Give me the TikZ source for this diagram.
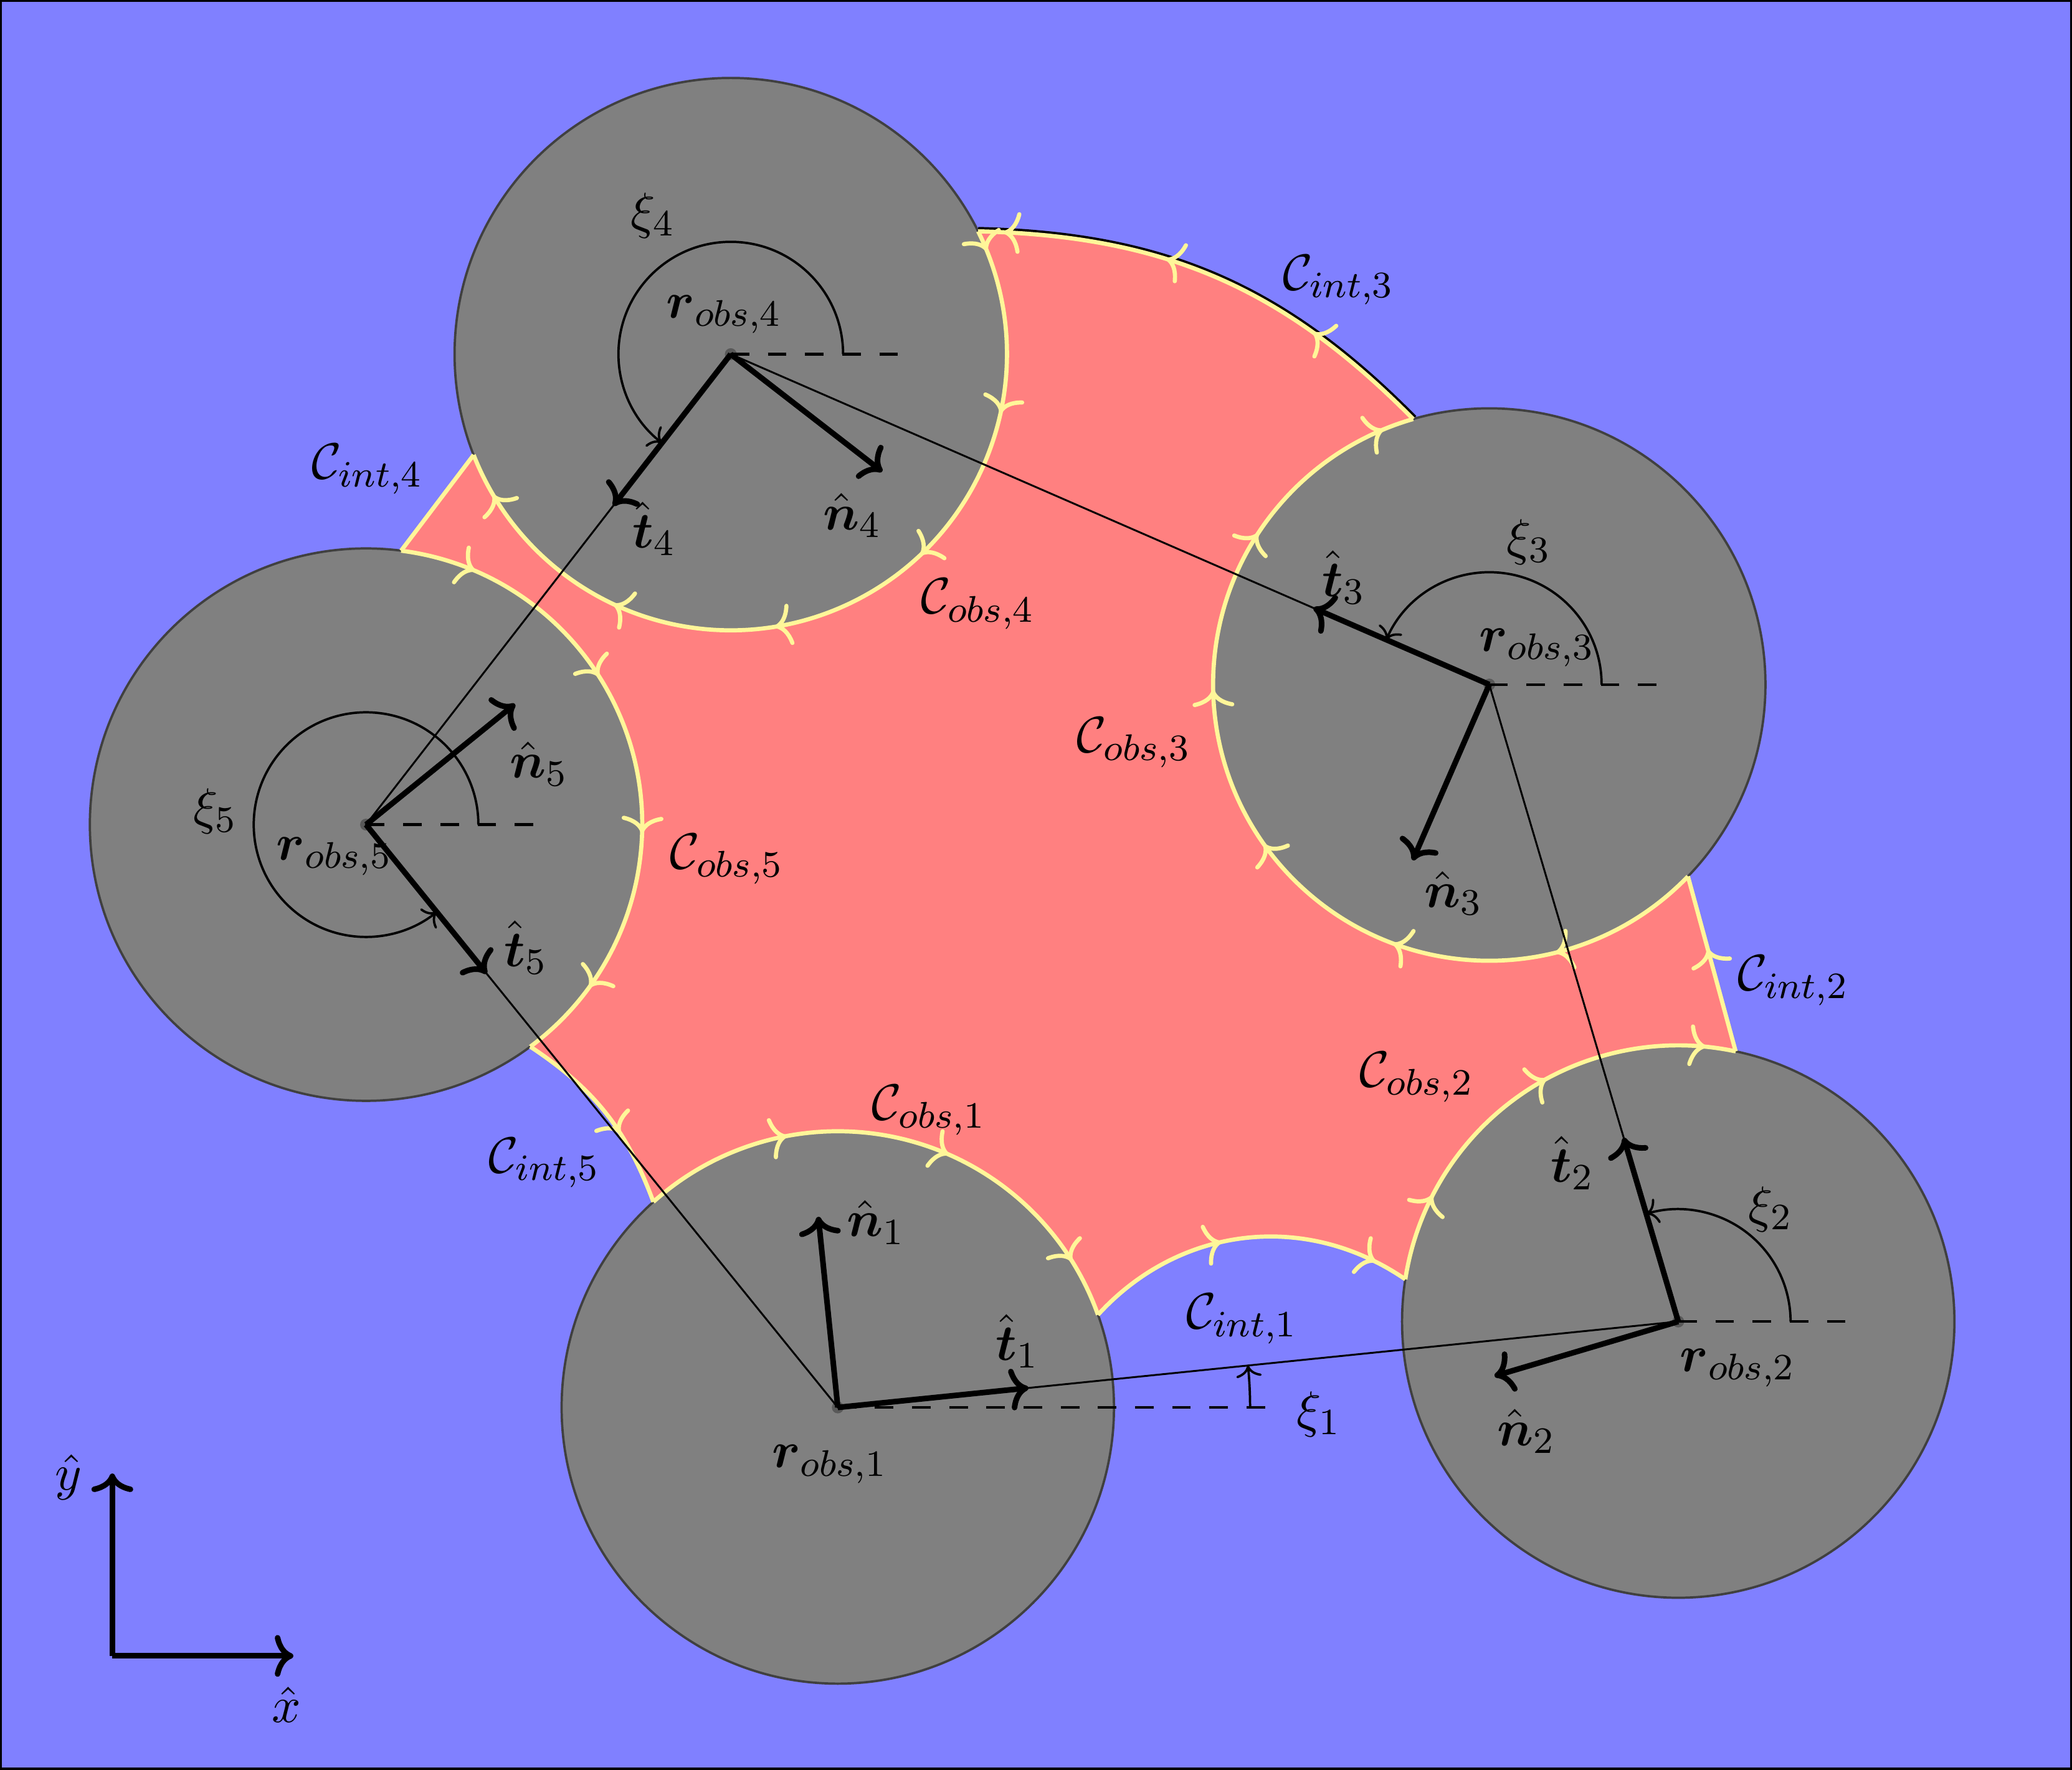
\documentclass[tikz,border=0pt]{standalone}
\usepackage{amsmath}
\usepackage{amsfonts}
\usetikzlibrary{arrows.meta,calc,decorations.markings}

\definecolor{freespace}{RGB}{128,128,255}
\definecolor{region}{RGB}{255,128,128}
\definecolor{obstacle}{RGB}{128,128,128}
\definecolor{contour}{RGB}{255,246,153}

\newcommand{\obsr}{2.09}

\tikzset{
	obs/.style={fill=obstacle, draw=black!75, line width=0.5pt},
	bnd/.style 2 args={draw=contour, line width=0.9pt,
		postaction={decorate, decoration={markings,
			mark=between positions #1 and -0.05cm step #2 with {\arrow[contour]{To[length=3.6pt,width=9pt]}}}}},
	vec/.style={line width=1.2pt, -{To[length=4pt,width=9pt]}},
	ang/.style={line width=0.5pt, -{To[length=2.5pt,width=5.5pt]}},
	ref/.style={line width=0.6pt, dash pattern=on 4pt off 4pt},
	every node/.style={font=\fontsize{11}{13}\selectfont, inner sep=1pt},
}

\begin{document}
\begin{tikzpicture}
	\useasboundingbox (0,0) rectangle (15.68,13.39);
	\fill[freespace, draw=black, line width=0.9pt] (0,0) rectangle (15.68,13.39);

	\coordinate (o1) at (6.34,2.74);
	\coordinate (o2) at (12.70,3.39);
	\coordinate (o3) at (11.27,8.21);
	\coordinate (o4) at (5.53,10.71);
	\coordinate (o5) at (2.77,7.15);

	\coordinate (int1s) at ($(o1)+(19.6:\obsr)$);
	\coordinate (int1e) at ($(o2)+(171.2:\obsr)$);
	\coordinate (int2s) at ($(o2)+(78:\obsr)$);
	\coordinate (int2e) at ($(o3)+(-44:\obsr)$);
	\coordinate (int3s) at ($(o3)+(106:\obsr)$);
	\coordinate (int3e) at ($(o4)+(26.4:\obsr)$);
	\coordinate (int4s) at ($(o4)+(201.4:\obsr)$);
	\coordinate (int4e) at ($(o5)+(82.7:\obsr)$);
	\coordinate (int5s) at ($(o5)+(-53.5:\obsr)$);
	\coordinate (int5e) at ($(o1)+(131.9:\obsr)$);

	\draw[line width=1.9pt] (int3s) to[bend right=22] (int3e);
	\fill[region] (o1) -- (int1s) to[bend left=41] (int1e) -- (o2) -- (int2s) -- (int2e) -- (o3)
		-- (int3s) to[bend right=22] (int3e) -- (o4) -- (int4s) -- (int4e) -- (o5)
		-- (int5s) to[bend left=18] (int5e) -- cycle;

	\foreach \i in {1,...,5}
		\draw[obs] (o\i) circle (\obsr);

	\draw[bnd={1.14cm}{1.25cm}] (int5e) arc[start angle=131.9, end angle=19.6, radius=\obsr];
	\draw[bnd={1.1cm}{1.2cm}] (int1s) to[bend left=41] (int1e);
	\draw[bnd={0.67cm}{1.25cm}] (int1e) arc[start angle=171.2, end angle=78, radius=\obsr];
	\draw[bnd={0.8cm}{5cm}] (int2s) -- (int2e);
	\draw[bnd={1.17cm}{1.25cm}] (int2e) arc[start angle=-44, end angle=-254, radius=\obsr];
	\draw[bnd={1.0cm}{1.25cm}] (int3s) to[bend right=22] (int3e);
	\draw[bnd={0.16cm}{1.25cm}] (int3e) arc[start angle=26.4, end angle=-158.6, radius=\obsr];
	\draw[draw=contour, line width=0.9pt] (int4s) -- (int4e);
	\draw[bnd={0.58cm}{1.25cm}] (int4e) arc[start angle=82.7, end angle=-53.5, radius=\obsr];
	\draw[bnd={0.95cm}{5cm}] (int5s) to[bend left=18] (int5e);

	\foreach \i in {1,...,5}
		\fill[black!65] (o\i) circle (0.045);

	\draw (o1) -- (o2) -- (o3) -- (o4) -- (o5) -- cycle;

	\foreach \i/\l in {1/3.3,2/1.35,3/1.35,4/1.35,5/1.33}
		\draw[ref] (o\i) -- ++(\l,0);
	\foreach \i/\a/\r in {1/5.84/3.12,2/106.5/0.85,3/156.5/0.85,4/232.2/0.85,5/309/0.85}
		\draw[ang] ($(o\i)+(\r,0)$) arc[start angle=0, end angle=\a, radius=\r];

	\foreach \i/\j in {1/2,2/3,3/4,4/5,5/1}{
		\draw[vec] (o\i) -- ($(o\i)!1.45cm!(o\j)$);
		\draw[vec] (o\i) -- ($(o\i)!1.45cm!90:(o\j)$);
	}

	\node (r1) at (6.28,2.31) {$\boldsymbol{r}_{obs,1}$};
	\node (r2) at (13.15,3.04) {$\boldsymbol{r}_{obs,2}$};
	\node (r3) at (11.63,8.49) {$\boldsymbol{r}_{obs,3}$};
	\node (r4) at (5.48,11.01) {$\boldsymbol{r}_{obs,4}$};
	\node (r5) at (2.53,6.91) {$\boldsymbol{r}_{obs,5}$};

	\node (t1) at (7.70,3.24) {$\hat{\boldsymbol{t}}_1$};
	\node (t2) at (11.90,4.59) {$\hat{\boldsymbol{t}}_2$};
	\node (t3) at (10.17,9.02) {$\hat{\boldsymbol{t}}_3$};
	\node (t4) at (4.95,9.39) {$\hat{\boldsymbol{t}}_4$};
	\node (t5) at (3.98,6.22) {$\hat{\boldsymbol{t}}_5$};

	\node (n1) at (6.63,4.14) {$\hat{\boldsymbol{n}}_1$};
	\node (n2) at (11.55,2.56) {$\hat{\boldsymbol{n}}_2$};
	\node (n3) at (11.00,6.63) {$\hat{\boldsymbol{n}}_3$};
	\node (n4) at (6.45,9.49) {$\hat{\boldsymbol{n}}_4$};
	\node (n5) at (4.08,7.61) {$\hat{\boldsymbol{n}}_5$};

	\node (xi1) at (9.98,2.69) {$\xi_1$};
	\node (xi2) at (13.40,4.24) {$\xi_2$};
	\node (xi3) at (11.57,9.29) {$\xi_3$};
	\node (xi4) at (4.94,11.76) {$\xi_4$};
	\node (xi5) at (1.63,7.25) {$\xi_5$};

	\node (cobs1) at (7.03,4.99) {$\mathcal{C}_{obs,1}$};
	\node (cobs2) at (10.72,5.24) {$\mathcal{C}_{obs,2}$};
	\node (cobs3) at (8.58,7.77) {$\mathcal{C}_{obs,3}$};
	\node (cobs4) at (7.40,8.82) {$\mathcal{C}_{obs,4}$};
	\node (cobs5) at (5.50,6.89) {$\mathcal{C}_{obs,5}$};

	\node (cint1) at (9.40,3.41) {$\mathcal{C}_{int,1}$};
	\node (cint2) at (13.57,5.97) {$\mathcal{C}_{int,2}$};
	\node (cint3) at (10.13,11.27) {$\mathcal{C}_{int,3}$};
	\node (cint4) at (2.78,9.84) {$\mathcal{C}_{int,4}$};
	\node (cint5) at (4.12,4.59) {$\mathcal{C}_{int,5}$};

	\coordinate (ax) at (0.85,0.86);
	\coordinate (axx) at (2.22,0.86);
	\coordinate (axy) at (0.85,2.24);
	\draw[vec] (ax) -- (axx);
	\draw[vec] (ax) -- (axy);
	\node (xhat) at (2.17,0.49) {$\hat{x}$};
	\node (yhat) at (0.52,2.21) {$\hat{y}$};
\end{tikzpicture}
\end{document}
